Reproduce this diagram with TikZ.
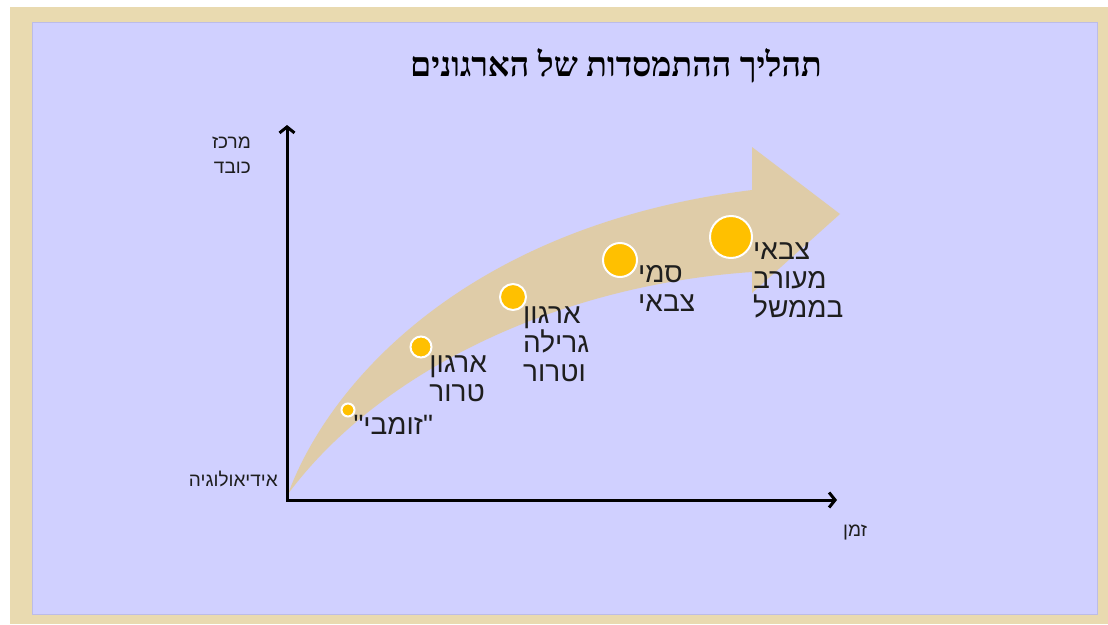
\documentclass[tikz,border=0pt]{standalone}
\usepackage{fontspec}
\setmainfont{Liberation Sans}
\newfontfamily\hebfont[Script=Hebrew]{Liberation Sans}
\newfontfamily\hebtitle[Script=Hebrew]{Liberation Serif}
\TeXXeTstate=1
\usepackage{tikz}
\usetikzlibrary{positioning, arrows.meta, calc}

\definecolor{parch}{RGB}{233,218,176}
\definecolor{lav}{RGB}{208,208,255}
\definecolor{lavedge}{RGB}{188,188,232}
\definecolor{band}{RGB}{223,204,168}
\definecolor{gold}{RGB}{255,192,0}
\definecolor{ink}{RGB}{30,30,30}

% one right-to-left line
\newcommand{\hb}[1]{\beginR #1\endR}

\begin{document}
\begin{tikzpicture}[
  x=1pt, y=-1pt,
  title/.style={font=\hebtitle\bfseries\fontsize{34}{40}\selectfont, inner sep=0pt},
  axlbl/.style={font=\hebfont\fontsize{19}{25}\selectfont, text=ink,
    inner sep=0pt, align=right},
  lbl/.style={font=\hebfont\fontsize{28}{29}\selectfont, text=ink,
    inner sep=0pt, align=left, anchor=north west},
  dot/.style={circle, fill=gold, draw=white, line width=2pt, inner sep=0pt},
  axis/.style={line width=3pt, line join=miter,
    {Straight Barb[length=6pt, width=15pt]}-{Straight Barb[length=6pt, width=15pt]}},
]
  \useasboundingbox (0,0) rectangle (1108,624);

  % frame
  \fill[parch] (10,7) rectangle (1108,624);
  \fill[lav, draw=lavedge, line width=0.8pt] (32,22) rectangle (1097,614);

  % title
  \node[title] (ttl) at (616,66) {\hb{תהליך ההתמסדות של הארגונים}};

  % curved band arrow
  \coordinate (o) at (287,500);
  \fill[band] (288,494) .. controls (330,380) and (470,225) .. (752,190)
    -- (752,147) -- (840,214) -- (752,293) -- (752,272)
    .. controls (560,285) and (380,370) .. (288,494) -- cycle;

  % axes
  \coordinate (ytop) at (287,125);
  \coordinate (xend) at (837,500);
  \draw[axis] (ytop) -- (o) -- (xend);

  % axis labels
  \node[axlbl, anchor=east] (ylbl) at (251,155) {\hb{מרכז}\\\hb{כובד}};
  \node[axlbl, anchor=east] (ideo) at (278,479) {\hb{אידיאולוגיה}};
  \node[axlbl, anchor=west] (time) at (843,532) {\hb{זמן}};

  % stages
  \node[dot, minimum size=13pt] (c1) at (348,410) {};
  \node[dot, minimum size=21pt] (c2) at (421,347) {};
  \node[dot, minimum size=26pt] (c3) at (513,297) {};
  \node[dot, minimum size=34pt] (c4) at (620,260) {};
  \node[dot, minimum size=42pt] (c5) at (731,237) {};

  \node[lbl] (t1) at (c1.south east) {\hb{"זומבי"}};
  \node[lbl] (t2) at (c2.south east) {\hb{ארגון}\\\hb{טרור}};
  \node[lbl] (t3) at (c3.south east) {\hb{ארגון}\\\hb{גרילה}\\\hb{וטרור}};
  \node[lbl, yshift=-5pt] (t4) at (c4.east) {\hb{סמי}\\\hb{צבאי}};
  \node[lbl, yshift=-6pt] (t5) at (c5.east) {\hb{צבאי}\\\hb{מעורב}\\\hb{בממשל}};
\end{tikzpicture}
\end{document}
